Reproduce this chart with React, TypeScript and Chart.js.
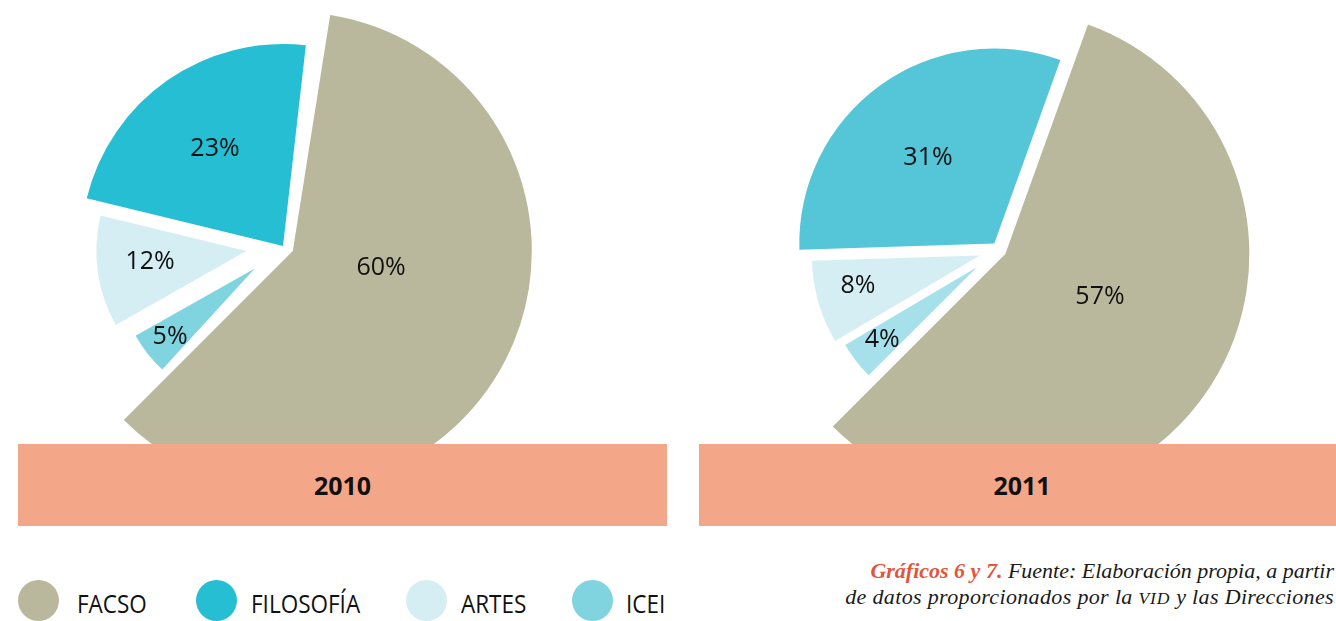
import React, { useEffect, useRef } from 'react';
import { Chart, registerables } from 'chart.js';

Chart.register(...registerables);

// ---------- data ----------
const categories = ['FACSO', 'FILOSOFÍA', 'ARTES', 'ICEI'];
const values2010 = [60, 23, 12, 5];
const values2011 = [57, 31, 8, 4];
const yearLabels = ['2010', '2011'];

// ---------- styles (category order) ----------
const legendColors = ['#b9b89c', '#26bed3', '#d5eef3', '#80d4e0'];
const colors2010 = ['#b9b89c', '#26bed3', '#d5eef3', '#80d4e0'];
const colors2011 = ['#b9b89c', '#55c5d8', '#d5eef3', '#a6e0ea'];

const BASE_R = 190;
const explode2010 = [11, 0, 37, 36];
const twist2010 = [0, -2.5, -2.5, -2.5];
const radius2010 = [239 / BASE_R, 202 / BASE_R, 150 / BASE_R, 137 / BASE_R];
const labelR2010 = [0.376, 0.587, 0.646, 0.796];
const labelShift2010 = [-16.1, -0.1, 1.4, -0.5];

const explode2011 = [7.5, 8, 20, 28];
const twist2011 = [0, 0, 0, 0];
const radius2011 = [244 / BASE_R, 195 / BASE_R, 168 / BASE_R, 153 / BASE_R];
const labelR2011 = [0.426, 0.555, 0.747, 0.78];
const labelShift2011 = [-8, -1.8, 2.2, 0.3];

// slices are drawn clockwise: ICEI, ARTES, FILOSOFÍA, FACSO
const ORDER = [3, 2, 1, 0];
const DEG = Math.PI / 180;

const explodePlugin = {
  id: 'explode',
  afterDatasetsUpdate(chart: any, _args: any, opts: any) {
    const meta = chart.getDatasetMeta(0);
    meta.data.forEach((arc: any, i: number) => {
      const t = opts.twist[i] * DEG;
      arc.startAngle = arc.startAngle + t;
      arc.endAngle = arc.endAngle + t;
      const mid = (arc.startAngle + arc.endAngle) / 2;
      const d = opts.offsets[i];
      arc.x = arc.x + Math.cos(mid) * d;
      arc.y = arc.y + Math.sin(mid) * d;
      arc.outerRadius = arc.outerRadius * opts.scales[i];
    });
  },
  afterDatasetsDraw(chart: any, _args: any, opts: any) {
    const meta = chart.getDatasetMeta(0);
    const ctx = chart.ctx;
    const data = chart.data.datasets[0].data;
    ctx.save();
    ctx.font = '400 25px "Open Sans"';
    ctx.fillStyle = '#111111';
    ctx.textAlign = 'center';
    ctx.textBaseline = 'middle';
    meta.data.forEach((arc: any, i: number) => {
      const ang = (arc.startAngle + arc.endAngle) / 2 + opts.labelShift[i] * DEG;
      const r = arc.outerRadius * opts.labelR[i];
      ctx.fillText(data[i] + '%', arc.x + Math.cos(ang) * r, arc.y + Math.sin(ang) * r);
    });
    ctx.restore();
  },
};

function makePie(
  canvas: HTMLCanvasElement,
  values: number[],
  colors: string[],
  offsets: number[],
  twist: number[],
  scales: number[],
  labelR: number[],
  labelShift: number[],
  padding: { left: number; right: number; top: number; bottom: number }
) {
  return new Chart(canvas, {
    type: 'pie',
    data: {
      labels: ORDER.map((i) => categories[i]),
      datasets: [
        {
          data: ORDER.map((i) => values[i]),
          backgroundColor: ORDER.map((i) => colors[i]),
          borderWidth: 0,
          hoverBorderWidth: 0,
          hoverOffset: 0,
          offset: 0,
        } as any,
      ],
    },
    options: {
      responsive: false,
      animation: false,
      rotation: 225,
      events: [],
      layout: { padding },
      plugins: {
        legend: { display: false },
        tooltip: { enabled: false },
        explode: {
          offsets: ORDER.map((i) => offsets[i]),
          twist: ORDER.map((i) => twist[i]),
          scales: ORDER.map((i) => scales[i]),
          labelR: ORDER.map((i) => labelR[i]),
          labelShift: ORDER.map((i) => labelShift[i]),
        },
      } as any,
    },
    plugins: [explodePlugin as any],
  });
}

export default function App() {
  const c1 = useRef<HTMLCanvasElement>(null);
  const c2 = useRef<HTMLCanvasElement>(null);

  useEffect(() => {
    document.body.style.margin = '0';
    const a = makePie(
      c1.current!,
      values2010,
      colors2010,
      explode2010,
      twist2010,
      radius2010,
      labelR2010,
      labelShift2010,
      { left: 93, top: 56, right: 207, bottom: 8 }
    );
    const b = makePie(
      c2.current!,
      values2011,
      colors2011,
      explode2011,
      twist2011,
      radius2011,
      labelR2011,
      labelShift2011,
      { left: 129, top: 60, right: 147, bottom: 4 }
    );
    return () => {
      a.destroy();
      b.destroy();
    };
  }, []);

  const bandStyle: React.CSSProperties = {
    position: 'absolute',
    top: 444,
    height: 82,
    background: '#f4a788',
    display: 'flex',
    alignItems: 'center',
    justifyContent: 'center',
    font: '700 25px "Open Sans"',
    color: '#111',
  };

  const legendCircleX = [18, 196, 406, 572];
  const legendTextX = [77, 251, 461, 626];

  return (
    <div
      style={{
        position: 'fixed',
        left: 0,
        top: 0,
        width: 1336,
        height: 621,
        overflow: 'hidden',
        background: '#ffffff',
      }}
    >
      <canvas ref={c1} width={680} height={444} style={{ position: 'absolute', left: 0, top: 0 }} />
      <canvas ref={c2} width={656} height={444} style={{ position: 'absolute', left: 680, top: 0 }} />

      <div style={{ ...bandStyle, left: 18, width: 649 }}>{yearLabels[0]}</div>
      <div style={{ ...bandStyle, left: 699, width: 646 }}>{yearLabels[1]}</div>

      {categories.map((c, i) => (
        <React.Fragment key={c}>
          <div
            style={{
              position: 'absolute',
              left: legendCircleX[i],
              top: 580,
              width: 41,
              height: 41,
              borderRadius: '50%',
              background: legendColors[i],
            }}
          />
          <div
            style={{
              position: 'absolute',
              left: legendTextX[i],
              top: 586,
              font: '400 25px "Open Sans"',
              lineHeight: '34px',
              color: '#111',
              transform: 'scaleX(0.9)',
              transformOrigin: 'left center',
              whiteSpace: 'nowrap',
            }}
          >
            {c}
          </div>
        </React.Fragment>
      ))}

      <div
        style={{
          position: 'absolute',
          right: 2,
          top: 558,
          textAlign: 'right',
          font: 'italic 400 22px "Liberation Serif"',
          lineHeight: '26px',
          color: '#1a1a1a',
          whiteSpace: 'nowrap',
        }}
      >
        <div>
          <span style={{ color: '#e2553a', fontWeight: 700 }}>Gráficos 6 y 7.</span> Fuente: Elaboración propia, a partir
        </div>
        <div style={{ letterSpacing: '0.35px' }}>
          de datos proporcionados por la <span style={{ fontSize: '0.8em', letterSpacing: '0.8px' }}>VID</span> y las
          Direcciones
        </div>
      </div>
    </div>
  );
}
